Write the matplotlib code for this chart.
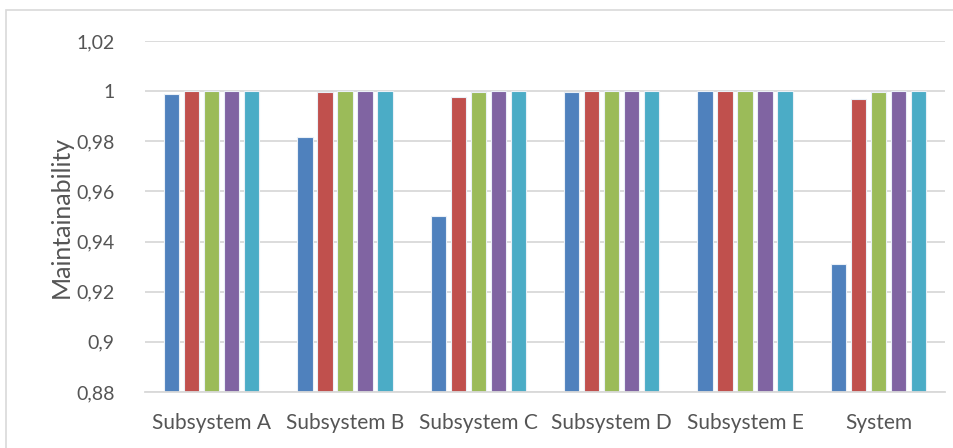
import numpy as np
import matplotlib.pyplot as plt
from matplotlib.patches import Rectangle
from matplotlib.ticker import FuncFormatter

categories = ['Subsystem A', 'Subsystem B', 'Subsystem C', 'Subsystem D', 'Subsystem E', 'System']
series1 = [0.9989, 0.9818, 0.9502, 0.9996, 1.0, 0.9311]
series2 = [1.0, 0.9996, 0.9975, 1.0, 1.0, 0.9969]
series3 = [1.0, 1.0, 0.9996, 1.0, 1.0, 0.9996]
series4 = [1.0, 1.0, 1.0, 1.0, 1.0, 1.0]
series5 = [1.0, 1.0, 1.0, 1.0, 1.0, 1.0]
yticks = [0.88, 0.90, 0.92, 0.94, 0.96, 0.98, 1.00, 1.02]

colors = ['#4F81BD', '#C0504D', '#9BBB59', '#8064A2', '#4BACC6']
plt.rcParams['font.family'] = ['Lato', 'DejaVu Sans']

fig = plt.figure(figsize=(9.54, 4.48), dpi=100)
ax = fig.add_axes([145/954, 1 - 392/448, 800/954, (392 - 41)/448])

# light frame around the chart area
fig.patches.append(Rectangle((6/954, -0.05), 1.0, 1 - 10/448 + 0.05, transform=fig.transFigure,
                             fill=False, edgecolor='#D9D9D9', linewidth=1.2))

x = np.arange(len(categories))
step = 0.15
width = 0.115
allSeries = [series1, series2, series3, series4, series5]
for i, (vals, c) in enumerate(zip(allSeries, colors)):
    ax.bar(x + (i - 2) * step, np.array(vals) - 0.88, width, bottom=0.88, color=c,
           edgecolor='#EAF0F7', linewidth=0.8, zorder=3)

ax.set_xlim(-0.5, len(categories) - 0.5)
ax.set_ylim(0.88, 1.02)
ax.set_yticks(yticks)
ax.yaxis.set_major_formatter(FuncFormatter(lambda v, p: ('%g' % round(v, 2)).replace('.', ',')))
ax.set_xticks(x)
ax.set_xticklabels(categories)
ax.grid(axis='y', color='#D9D9D9', linewidth=1.3, zorder=0)
for s in ['top', 'right', 'left']:
    ax.spines[s].set_visible(False)
ax.spines['bottom'].set_color('#D9D9D9')
ax.spines['bottom'].set_linewidth(1.3)
ax.spines['bottom'].set_zorder(4)
ax.tick_params(axis='both', length=0, colors='#555555')
ax.tick_params(axis='y', pad=22, labelsize=14)
ax.tick_params(axis='x', pad=15, labelsize=15)
ax.set_ylabel('Maintainability', fontsize=18, color='#555555', labelpad=2)

fig.savefig('out.png', dpi=100)
